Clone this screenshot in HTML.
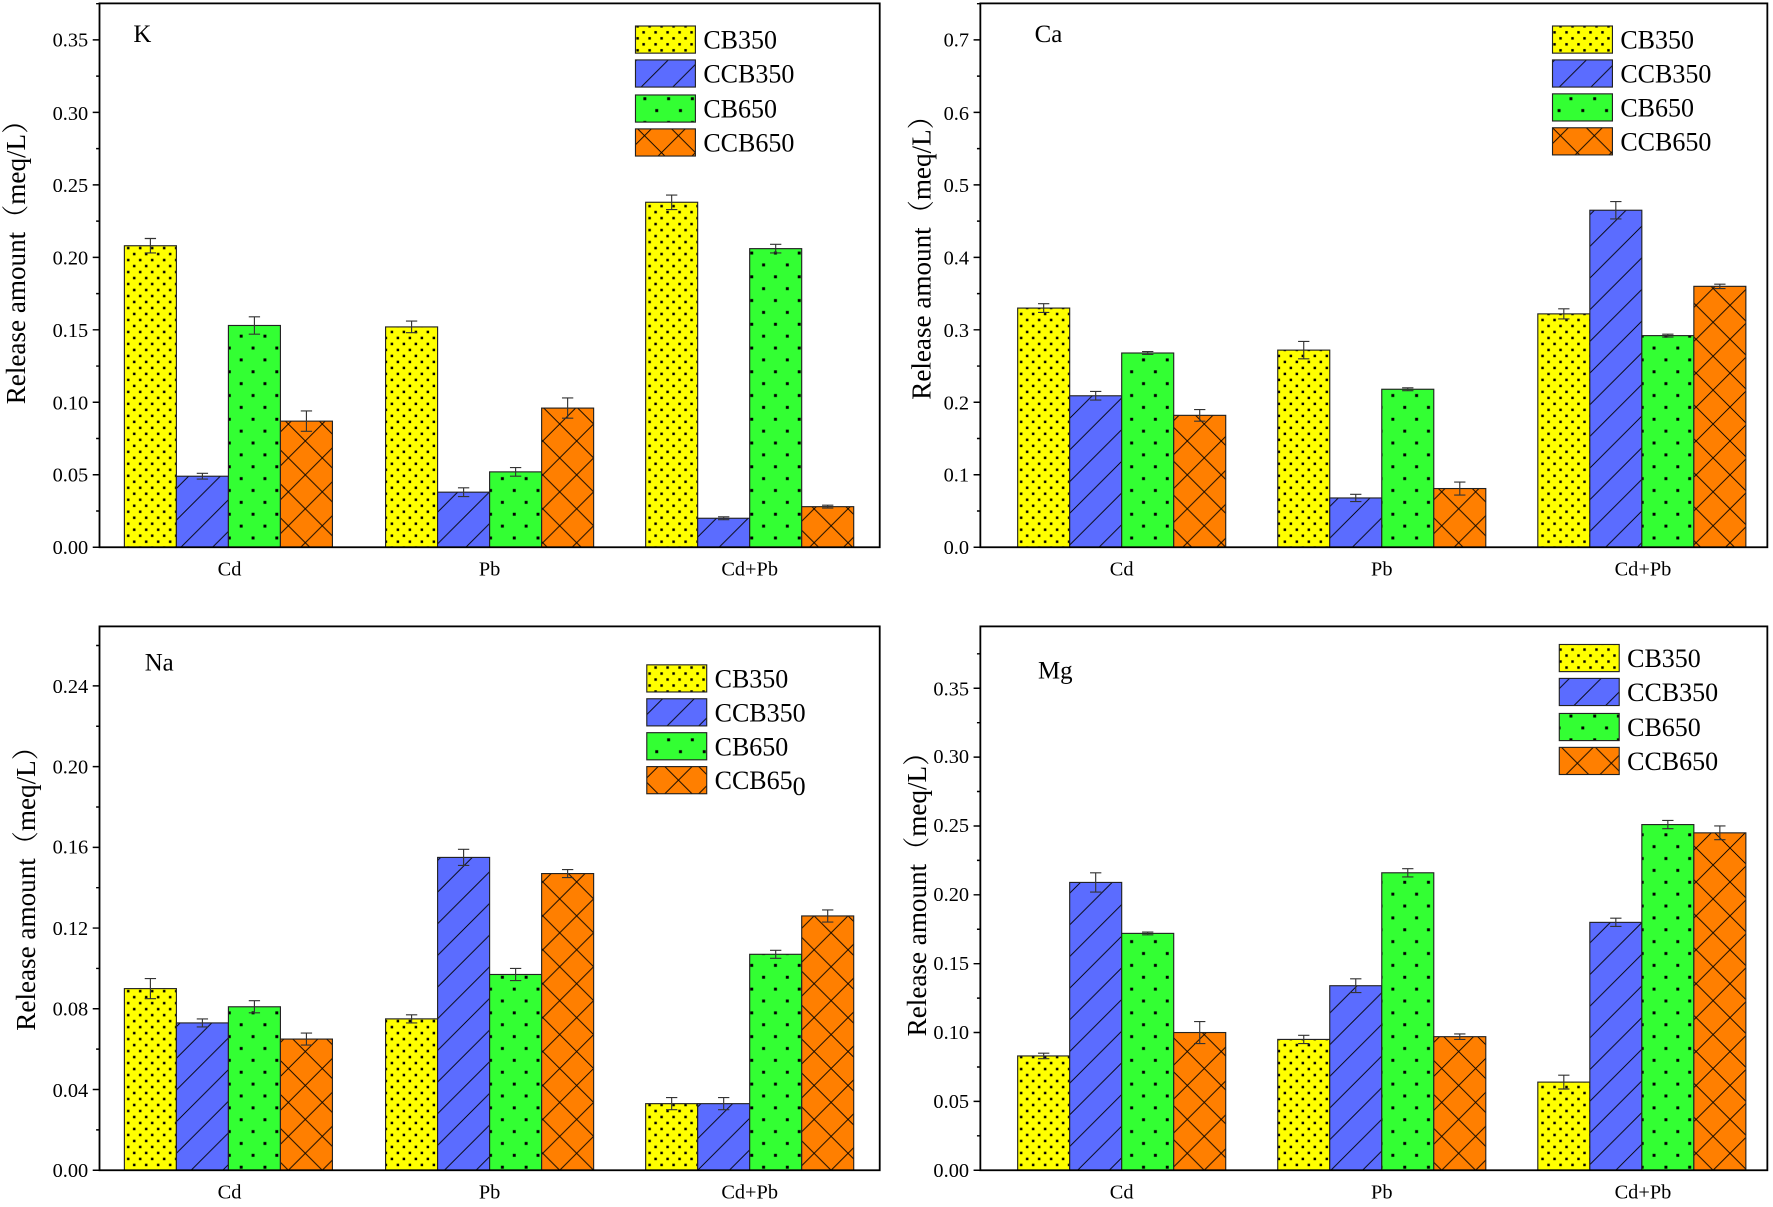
<!DOCTYPE html>
<html><head><meta charset="utf-8"><style>
html,body{margin:0;padding:0;background:#fff;}
svg{display:block;}
text{font-family:"Liberation Serif","Noto Serif CJK SC",serif;fill:#000;}
</style></head><body>
<svg id="s" width="1773" height="1207" viewBox="0 0 1568 1067.5" preserveAspectRatio="none" xmlns="http://www.w3.org/2000/svg">
<defs>
<pattern id="py" patternUnits="userSpaceOnUse" width="10.6" height="10.6">
<rect width="10.6" height="10.6" fill="#ffff00"/><rect x="1" y="1" width="2.2" height="2.2" fill="#000"/><rect x="6.3" y="6.3" width="2.2" height="2.2" fill="#000"/></pattern>
<pattern id="pg" patternUnits="userSpaceOnUse" width="21" height="21">
<rect width="21" height="21" fill="#33ff33"/><rect x="2" y="2" width="2.6" height="2.6" fill="#000"/><rect x="12.5" y="12.5" width="2.6" height="2.6" fill="#000"/></pattern>
<pattern id="pb" patternUnits="userSpaceOnUse" width="28" height="28">
<rect width="28" height="28" fill="#5b6cff"/><path d="M0 28 L28 0 M-7 7 L7 -7 M21 35 L35 21" stroke="#000" stroke-width="0.8"/></pattern>
<pattern id="po" patternUnits="userSpaceOnUse" width="30" height="30">
<rect width="30" height="30" fill="#ff7f00"/><path d="M0 30 L30 0 M0 0 L30 30" stroke="#000" stroke-width="0.8"/></pattern>
</defs>
<g id="g"></g>

<g font-size="18" text-anchor="end">
<text x="78" y="490">0.00</text><text x="78" y="426">0.05</text><text x="78" y="362">0.10</text><text x="78" y="298">0.15</text><text x="78" y="234">0.20</text><text x="78" y="170">0.25</text><text x="78" y="106">0.30</text><text x="78" y="41">0.35</text>
</g>
<g font-size="18" text-anchor="end">
<text x="857" y="490">0.0</text><text x="857" y="426">0.1</text><text x="857" y="362">0.2</text><text x="857" y="298">0.3</text><text x="857" y="234">0.4</text><text x="857" y="170">0.5</text><text x="857" y="106">0.6</text><text x="857" y="41">0.7</text>
</g>
<g font-size="18" text-anchor="end">
<text x="78" y="1041">0.00</text><text x="78" y="970">0.04</text><text x="78" y="898">0.08</text><text x="78" y="827">0.12</text><text x="78" y="755">0.16</text><text x="78" y="684">0.20</text><text x="78" y="613">0.24</text>
</g>
<g font-size="18" text-anchor="end">
<text x="857" y="1041">0.00</text><text x="857" y="980">0.05</text><text x="857" y="919">0.10</text><text x="857" y="858">0.15</text><text x="857" y="797">0.20</text><text x="857" y="736">0.25</text><text x="857" y="675">0.30</text><text x="857" y="615">0.35</text>
</g>
<g font-size="18" text-anchor="middle">
<text x="203" y="509">Cd</text><text x="433" y="509">Pb</text><text x="663" y="509">Cd+Pb</text>
<text x="992" y="509">Cd</text><text x="1222" y="509">Pb</text><text x="1453" y="509">Cd+Pb</text>
<text x="203" y="1060">Cd</text><text x="433" y="1060">Pb</text><text x="663" y="1060">Cd+Pb</text>
<text x="992" y="1060">Cd</text><text x="1222" y="1060">Pb</text><text x="1453" y="1060">Cd+Pb</text>
</g>
<g font-size="24" text-anchor="middle">
<text transform="translate(22,226) rotate(-90)">Release amount（meq/L）</text>
<text transform="translate(823,222) rotate(-90)">Release amount（meq/L）</text>
<text transform="translate(31,780) rotate(-90)">Release amount（meq/L）</text>
<text transform="translate(819,785) rotate(-90)">Release amount（meq/L）</text>
</g>
<g font-size="22">
<text x="118" y="37">K</text><text x="915" y="37">Ca</text><text x="128" y="593">Na</text><text x="918" y="600">Mg</text>
</g>
<g font-size="23">
<text x="622" y="43">CB350</text><text x="622" y="73">CCB350</text><text x="622" y="104">CB650</text><text x="622" y="134">CCB650</text>
<text x="1433" y="43">CB350</text><text x="1433" y="73">CCB350</text><text x="1433" y="103">CB650</text><text x="1433" y="133">CCB650</text>
<text x="632" y="608">CB350</text><text x="632" y="638">CCB350</text><text x="632" y="668">CB650</text><text x="632" y="698">CCB65<tspan dy="5">0</tspan></text>
<text x="1439" y="590">CB350</text><text x="1439" y="620">CCB350</text><text x="1439" y="651">CB650</text><text x="1439" y="681">CCB650</text>
</g>
</svg>
<script>
var g=document.getElementById('g');var NS='http://www.w3.org/2000/svg';
function el(t,a){var e=document.createElementNS(NS,t);for(var k in a)e.setAttribute(k,a[k]);g.appendChild(e);return e;}
var fills=['url(#py)','url(#pb)','url(#pg)','url(#po)'];
var panels=[
{l:88,r:778,t:3,b:484,sc:1282,step:0.05,n:7,ly:[23,53,84,114],lx:562,starts:[110,341,571],
 v:[[.208,.049,.153,.087],[.152,.038,.052,.096],[.238,.020,.206,.028]],
 e:[[.005,.002,.006,.007],[.004,.003,.003,.007],[.005,.001,.003,.001]]},
{l:867,r:1563,t:3,b:484,sc:641,step:0.1,n:7,ly:[23,53,83,113],lx:1373,starts:[900,1130,1360],
 v:[[.330,.209,.268,.182],[.272,.068,.218,.081],[.322,.465,.292,.360]],
 e:[[.006,.006,.002,.008],[.012,.005,.002,.009],[.007,.012,.002,.003]]},
{l:88,r:778,t:554,b:1035,sc:1785,step:0.04,n:6,ly:[588,618,648,678],lx:572,starts:[110,341,571],
 v:[[.090,.073,.081,.065],[.075,.155,.097,.147],[.033,.033,.107,.126]],
 e:[[.005,.002,.003,.003],[.002,.004,.003,.002],[.003,.003,.002,.003]]},
{l:867,r:1563,t:554,b:1035,sc:1218,step:0.05,n:7,ly:[570,600,631,661],lx:1379,starts:[900,1130,1360],
 v:[[.083,.209,.172,.100],[.095,.134,.216,.097],[.064,.180,.251,.245]],
 e:[[.002,.007,.001,.008],[.003,.005,.003,.002],[.005,.003,.003,.005]]}
];
panels.forEach(function(p){
 p.starts.forEach(function(s,gi){
  for(var i=0;i<4;i++){
   var x=s+i*46,v=p.v[gi][i],er=p.e[gi][i],y=p.b-v*p.sc;
   el('rect',{x:x,y:y,width:46,height:v*p.sc,fill:fills[i],stroke:'#222','stroke-width':1});
   var cx=x+23,y1=p.b-(v+er)*p.sc,y2=p.b-(v-er)*p.sc;
   el('path',{d:'M'+cx+' '+y1+'V'+y2+'M'+(cx-5)+' '+y1+'H'+(cx+5)+'M'+(cx-5)+' '+y2+'H'+(cx+5),stroke:'#333','stroke-width':1,fill:'none'});
  }
 });
 el('rect',{x:p.l,y:p.t,width:p.r-p.l,height:p.b-p.t,fill:'none',stroke:'#000','stroke-width':1.6});
 var d='';
 for(var k=0;k<=p.n;k++){var y=p.b-k*p.step*p.sc;d+='M'+(p.l-6)+' '+y+'H'+p.l;var ym=y-p.step*p.sc/2;if(ym>p.t)d+='M'+(p.l-3)+' '+ym+'H'+p.l;}
 el('path',{d:d,stroke:'#000','stroke-width':1.3,fill:'none'});
 p.ly.forEach(function(y,i){el('rect',{x:p.lx,y:y,width:53,height:24,fill:fills[i],stroke:'#222','stroke-width':1});});
});
</script>
</body></html>
